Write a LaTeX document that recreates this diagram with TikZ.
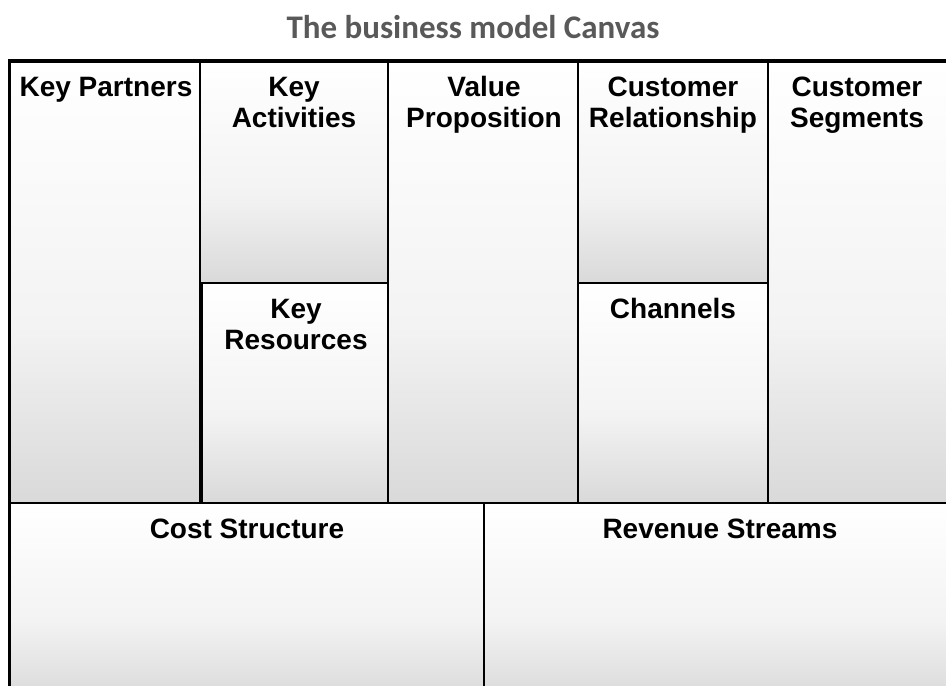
\documentclass[tikz,border=0pt]{standalone}
\usepackage{fontspec}
\setmainfont{Liberation Sans}
\newfontfamily\titlefont{Carlito}
\definecolor{cellbot}{HTML}{D9D9D9}
\definecolor{cellmid}{HTML}{F3F3F3}
\definecolor{titlegrey}{HTML}{595959}
% soft vertical fade: white at the top, light grey at the bottom
\pgfdeclareverticalshading{cellshade}{100bp}{color(0bp)=(cellbot); color(25bp)=(cellbot); color(45bp)=(cellmid); color(75bp)=(white); color(100bp)=(white)}
% fixed first-line height so every block title starts at the same place
\newcommand\firstline{\rule{0pt}{21pt}}
\tikzset{
  cell/.style={shading=cellshade, draw=black, line width=2pt},
  lbl/.style={font=\bfseries\fontsize{28}{31.5}\selectfont, align=center, anchor=north, inner sep=0pt},
  frame/.style={draw=black, line width=3.2pt}
}
\begin{document}
\begin{tikzpicture}[x=1pt, y=-1pt]
  \useasboundingbox (0,0) rectangle (946,686);
  \fill[white] (0,0) rectangle (946,686);
  \clip (0,0) rectangle (946,686);

  % title
  \node[font=\titlefont\bfseries\fontsize{33}{36}\selectfont, text=titlegrey, inner sep=0pt] (title) at (473,27) {The business model Canvas};

  % upper row of blocks
  \path[cell] (10,61) rectangle (200,503);
  \path[cell] (200,61) rectangle (388,283);
  \path[cell] (202,283) rectangle (388,503);
  \path[cell] (388,61) rectangle (578,503);
  \path[cell] (578,61) rectangle (768,283);
  \path[cell] (578,283) rectangle (768,503);
  \path[cell] (768,61) rectangle (960,503);

  % lower row of blocks
  \path[cell] (10,503) rectangle (484,700);
  \path[cell] (484,503) rectangle (960,700);

  % heavy outer frame
  \draw[frame] (9.5,700) -- (9.5,61) -- (960,61);

  % block titles
  \node[lbl] (kp) at (106,75) {\firstline Key Partners};
  \node[lbl] (ka) at (294,75) {\firstline Key\\Activities};
  \node[lbl] (kr) at (296,297) {\firstline Key\\Resources};
  \node[lbl] (vp) at (484,75) {\firstline Value\\Proposition};
  \node[lbl] (cr) at (673,75) {\firstline Customer\\Relationship};
  \node[lbl] (ch) at (673,297) {\firstline Channels};
  \node[lbl] (cs) at (857,75) {\firstline Customer\\Segments};
  \node[lbl] (cost) at (247,517) {\firstline Cost Structure};
  \node[lbl] (rev) at (720,517) {\firstline Revenue Streams};
\end{tikzpicture}
\end{document}
